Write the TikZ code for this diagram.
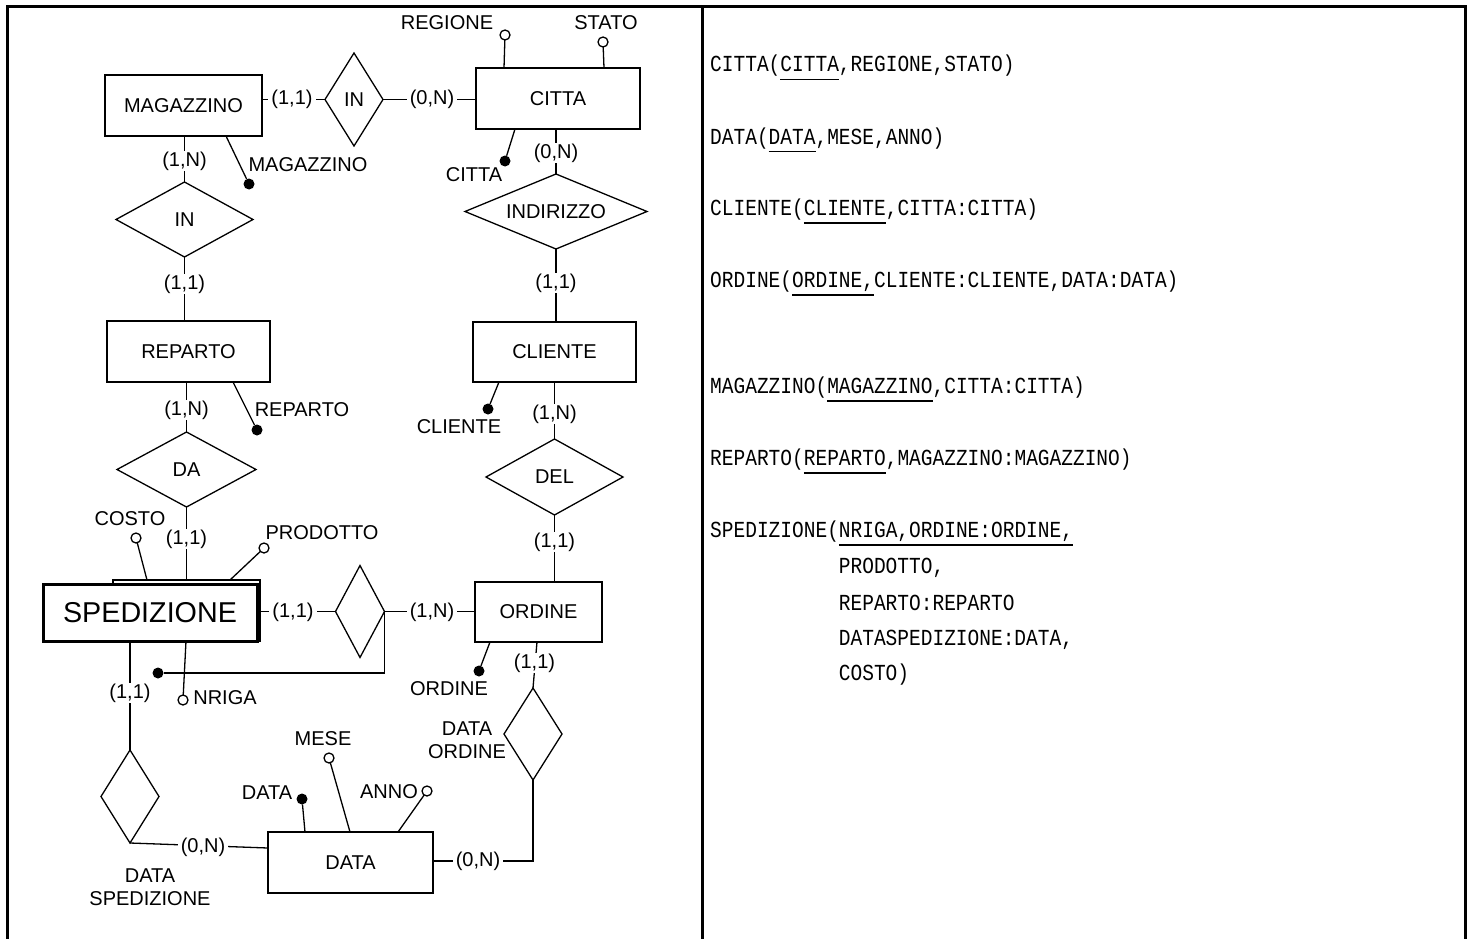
\documentclass[tikz,border=0pt]{standalone}
\usepackage{fontspec}
\setmainfont{Liberation Sans}
\newfontfamily\relmono[FakeStretch=0.85]{Liberation Mono}
\usetikzlibrary{shapes.geometric}
\newcommand\dfont{\fontsize{20}{23}\selectfont}
\newcommand\bigfont{\fontsize{28.7}{33}\selectfont}
\newcommand\relfnt{\relmono\fontsize{22.95}{26}\selectfont}
\newcommand\ku[1]{\vtop{\hbox{\smash{#1}}\kern7.3pt\hrule height 1.2pt}}
\begin{document}
\begin{tikzpicture}[x=1pt,y=-1pt,
  link/.style={line width=1.3pt},
  ent/.style={draw, rectangle, line width=1.3pt, inner sep=0pt, outer sep=0pt, fill=white, font=\dfont},
  rel/.style={draw, diamond, line width=1.3pt, inner sep=0pt, outer sep=0pt, fill=white, font=\dfont},
  card/.style={fill=white, inner xsep=3pt, inner ysep=1pt, font=\dfont},
  keydot/.style={circle, fill=black, minimum size=11pt, inner sep=0pt, outer sep=0pt},
  attdot/.style={circle, draw, fill=white, line width=1.3pt, minimum size=10pt, inner sep=0pt, outer sep=0pt},
  lbl/.style={font=\dfont, inner sep=0pt},
  relt/.style={font=\relfnt, anchor=base west, inner sep=0pt}]
\useasboundingbox (0,0) rectangle (1472,939);
% frame
\draw[line width=3pt] (7,945) -- (7,7) -- (1465,7) -- (1465,945);
\draw[line width=3pt] (702,7) -- (702,945);

% entities
\node[ent, minimum width=157pt, minimum height=61pt] (mag) at (183.5,105.5) {MAGAZZINO};
\node[ent, minimum width=164pt, minimum height=61pt] (citta) at (558,98.5) {CITTA};
\node[ent, minimum width=163pt, minimum height=61pt] (rep) at (188.5,351.5) {REPARTO};
\node[ent, minimum width=163pt, minimum height=60pt] (cli) at (554.5,352) {CLIENTE};
\node[ent, minimum width=127pt, minimum height=60pt] (ord) at (538.5,612) {ORDINE};
\node[ent, minimum width=165pt, minimum height=61pt] (data) at (350.5,862.5) {DATA};
\node[ent, minimum width=147pt, minimum height=61pt] (spedb) at (186.5,610.5) {};
\node[ent, line width=3pt, minimum width=214pt, minimum height=57pt, font=\bigfont] (sped) at (150,612.5) {SPEDIZIONE};

% relationships
\node[rel, shape aspect=0.62, minimum width=58pt, minimum height=93pt] (in1) at (354,99.5) {IN};
\node[rel, shape aspect=1.83, minimum width=137pt, minimum height=75pt] (in2) at (184.5,219.5) {IN};
\node[rel, shape aspect=2.43, minimum width=182pt, minimum height=75pt] (indir) at (556,211.5) {INDIRIZZO};
\node[rel, shape aspect=1.85, minimum width=139pt, minimum height=75pt] (da) at (186.5,469.5) {DA};
\node[rel, shape aspect=1.8, minimum width=137pt, minimum height=76pt] (del) at (554.5,477) {DEL};
\node[rel, shape aspect=0.53, minimum width=49pt, minimum height=92pt] (so) at (360,611.5) {};
\node[rel, shape aspect=0.63, minimum width=58pt, minimum height=92pt] (dord) at (533,734) {};
\node[rel, shape aspect=0.62, minimum width=58pt, minimum height=93pt] (dsped) at (130,796.5) {};

% connectors
\draw[link] (mag.east |- in1.west) -- (in1.west);
\draw[link] (in1.east) -- (in1.east -| citta.west);
\draw[link] (mag.south -| in2.north) -- (in2.north);
\draw[link] (in2.south) -- (in2.south |- rep.north);
\draw[link] (rep.south -| da.north) -- (da.north);
\draw[link] (da.south) -- (da.south |- spedb.north);
\draw[link] (sped.east |- so.west) -- (so.west);
\draw[link] (so.east) -- (so.east -| ord.west);
\draw[link] (citta.south -| indir.north) -- (indir.north);
\draw[link] (indir.south) -- (indir.south |- cli.north);
\draw[link] (cli.south -| del.north) -- (del.north);
\draw[link] (del.south) -- (del.south |- ord.north);
\draw[link] ([xshift=-1.5pt]ord.south) -- (dord.north);
\draw[link] (dord.south) |- ([yshift=1.5pt]data.east);
\draw[link] (sped.south -| dsped.north) -- (dsped.north);
\draw[link] (dsped.south) -- ([yshift=14.5pt]data.west);

% attributes
\node[attdot] (aregione) at (505,35) {};
\node[attdot] (astato) at (603,42) {};
\node[keydot] (kcitta) at (505,161) {};
\node[keydot] (kmag) at (249,184) {};
\node[keydot] (krep) at (257,430) {};
\node[keydot] (kcli) at (488,409) {};
\node[keydot] (kord) at (479,671) {};
\node[attdot] (acosto) at (136,538) {};
\node[attdot] (aprod) at (264,548) {};
\node[attdot] (anriga) at (183,700) {};
\node[keydot] (kid) at (158,673) {};
\node[keydot] (kdata) at (302,799) {};
\node[attdot] (amese) at (329,758) {};
\node[attdot] (aanno) at (427,791) {};

\draw[link] ([xshift=28pt]citta.north west) -- (aregione);
\draw[link] ([xshift=128pt]citta.north west) -- (astato);
\draw[link] ([xshift=39pt]citta.south west) -- (kcitta);
\draw[link] ([xshift=121pt]mag.south west) -- (kmag);
\draw[link] ([xshift=126pt]rep.south west) -- (krep);
\draw[link] ([xshift=26pt]cli.south west) -- (kcli);
\draw[link] ([xshift=15pt]ord.south west) -- (kord);
\draw[link] ([xshift=34pt]spedb.north west) -- (acosto);
\draw[link] ([xshift=117pt]spedb.north west) -- (aprod);
\draw[link] ([xshift=143pt]sped.south west) -- (anriga);
\draw[link] (so.east) |- (kid);
\draw[link] ([xshift=37pt]data.north west) -- (kdata);
\draw[link] ([xshift=82pt]data.north west) -- (amese);
\draw[link] ([xshift=130pt]data.north west) -- (aanno);

% attribute labels
\node[lbl] (lregione) at (447,23) {REGIONE};
\node[lbl] (lstato) at (606,23) {STATO};
\node[lbl] (lcitta) at (474,175) {CITTA};
\node[lbl] (lmag) at (308,165) {MAGAZZINO};
\node[lbl] (lrep) at (302,410) {REPARTO};
\node[lbl] (lcli) at (459,427) {CLIENTE};
\node[lbl] (lord) at (449,689) {ORDINE};
\node[lbl] (lcosto) at (130,519) {COSTO};
\node[lbl] (lprod) at (322,533) {PRODOTTO};
\node[lbl] (lnriga) at (225,698) {NRIGA};
\node[lbl] (ldata) at (267,793) {DATA};
\node[lbl] (lmese) at (323,739) {MESE};
\node[lbl] (lanno) at (389,792) {ANNO};
\node[lbl, align=center] (ldord) at (467,740) {DATA\\ORDINE};
\node[lbl, align=center] (ldsped) at (150,887) {DATA\\SPEDIZIONE};

% cardinalities
\node[card] (c1) at (292,99.5) {(1,1)};
\node[card] (c2) at (432,99.5) {(0,N)};
\node[card] (c3) at (184.5,161) {(1,N)};
\node[card] (c4) at (184.5,284) {(1,1)};
\node[card] (c5) at (186.5,410) {(1,N)};
\node[card] (c6) at (186.5,539) {(1,1)};
\node[card] (c7) at (293,612) {(1,1)};
\node[card] (c8) at (432,612) {(1,N)};
\node[card] (c9) at (556,153) {(0,N)};
\node[card] (c10) at (556,283) {(1,1)};
\node[card] (c11) at (554.5,414) {(1,N)};
\node[card] (c12) at (554.5,542) {(1,1)};
\node[card] (c13) at (534.5,663) {(1,1)};
\node[card] (c14) at (478,861) {(0,N)};
\node[card] (c15) at (130,693) {(1,1)};
\node[card] (c16) at (203,847) {(0,N)};

% relational schema
\node[relt] (t1) at (710,72) {CITTA(\ku{CITTA},REGIONE,STATO)};
\node[relt] (t2) at (710,144) {DATA(\ku{DATA},MESE,ANNO)};
\node[relt] (t3) at (710,215) {CLIENTE(\ku{CLIENTE},CITTA:CITTA)};
\node[relt] (t4) at (710,287) {ORDINE(\ku{ORDINE,}CLIENTE:CLIENTE,DATA:DATA)};
\node[relt] (t5) at (710,393) {MAGAZZINO(\ku{MAGAZZINO},CITTA:CITTA)};
\node[relt] (t6) at (710,465) {REPARTO(\ku{REPARTO},MAGAZZINO:MAGAZZINO)};
\node[relt] (t7) at (710,537) {SPEDIZIONE(\ku{NRIGA,ORDINE:ORDINE,}};
\node[relt] (t8) at (838.7,573) {PRODOTTO,};
\node[relt] (t9) at (838.7,610) {REPARTO:REPARTO};
\node[relt] (t10) at (838.7,645) {DATASPEDIZIONE:DATA,};
\node[relt] (t11) at (838.7,680) {COSTO)};
\end{tikzpicture}
\end{document}
